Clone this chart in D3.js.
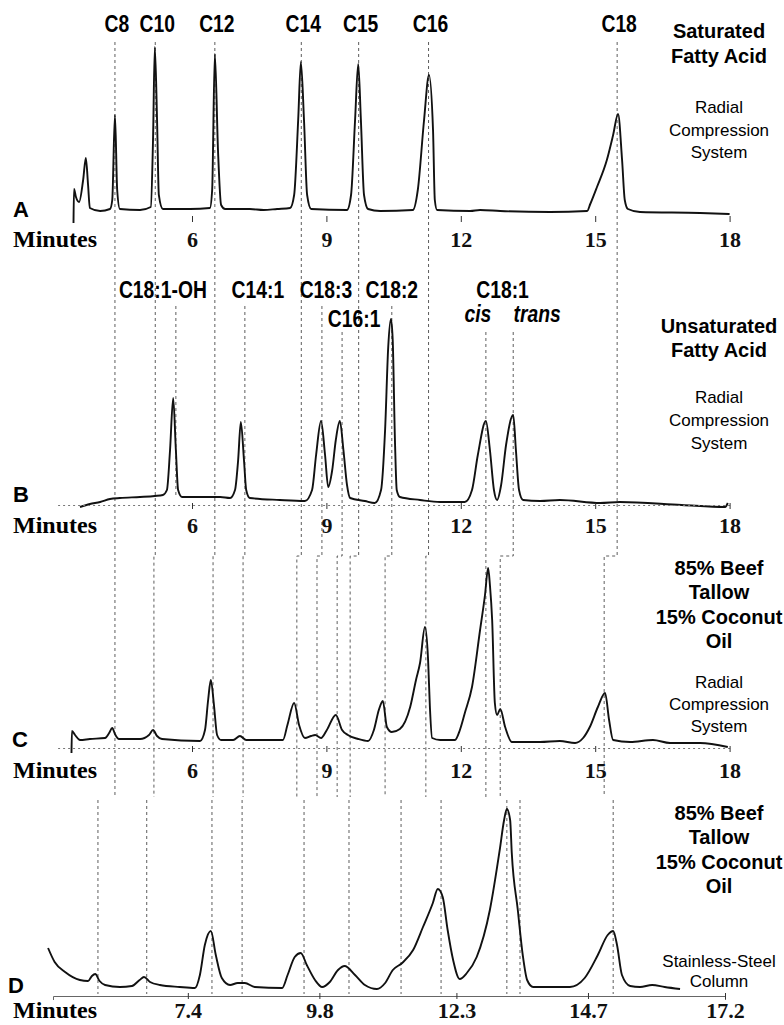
<!DOCTYPE html>
<html>
<head>
<meta charset="utf-8">
<script src="https://cdn.jsdelivr.net/npm/d3@7"></script>
<style>
body { margin: 0; background: #fff; }
.trace { fill: none; stroke: #111; stroke-width: 1.9; stroke-linejoin: round; }
.guide { fill: none; stroke: #333; stroke-width: 0.8; stroke-dasharray: 3,3; }
.peak { font-family: "Liberation Sans", Arial, sans-serif; font-weight: bold; font-size: 23px; text-anchor: middle; }
.title { font-family: "Liberation Sans", Arial, sans-serif; font-weight: bold; font-size: 20px; text-anchor: middle; }
.sub { font-family: "Liberation Sans", Arial, sans-serif; font-size: 17px; text-anchor: middle; }
.letter { font-family: "Liberation Sans", Arial, sans-serif; font-weight: bold; font-size: 22px; }
.minutes { font-family: "Liberation Serif", "Times New Roman", serif; font-weight: bold; font-size: 24px; }
</style>
</head>
<body>
<svg width="784" height="1025"></svg>
<script>
// retention times (min) and detector response (arbitrary units)
var traceA = [[3.355,-13],[3.366,21],[3.41,13],[3.48,8],[3.57,30],[3.63,52],[3.68,25],[3.72,2],[3.95,-1],[4.17,1],
  [4.22,10],[4.28,95],[4.33,20],[4.39,1],[4.84,0],[5.08,3],[5.13,70],[5.17,163],[5.22,90],[5.26,15],[5.35,1],
  [5.96,1],[6.40,2],[6.45,20],[6.51,156],[6.58,60],[6.65,5],[6.74,1],[7.29,1],[7.6,0],[7.9,1],[8.19,2],[8.28,15],
  [8.37,90],[8.43,148],[8.50,90],[8.57,15],[8.66,1],[9.46,0],[9.55,15],[9.64,90],[9.71,146],[9.77,90],[9.84,15],
  [9.93,1],[10.20,-1],[10.93,0],[11.04,20],[11.18,90],[11.29,135],[11.38,80],[11.42,10],[11.47,0],[12.21,-1],
  [12.43,0],[12.88,-1],[13.99,-2],[14.82,-1],[14.89,6],[15.04,23],[15.26,50],[15.40,75],[15.51,96],[15.60,50],
  [15.66,10],[15.73,1],[16.0,-2],[17.34,-3],[18.0,-4]];

var traceB = [[3.50,-7],[3.72,-4],[3.95,-2],[4.17,1],[4.39,2],[4.84,3],[5.17,4],[5.35,5],[5.44,10],[5.51,50],
  [5.58,102],[5.64,50],[5.69,10],[5.78,3],[6.18,3],[6.63,3],[6.85,2],[6.96,10],[7.03,40],[7.09,78],[7.16,40],
  [7.21,10],[7.29,2],[7.96,0],[8.52,-1],[8.68,10],[8.77,45],[8.88,79],[8.97,45],[9.04,13],[9.13,30],[9.21,60],
  [9.30,79],[9.38,50],[9.46,15],[9.53,2],[9.86,-1],[10.08,-3],[10.22,10],[10.31,70],[10.38,153],[10.44,181],
  [10.48,160],[10.53,60],[10.57,10],[10.64,3],[11.09,0],[11.54,-2],[12.09,-2],[12.25,10],[12.38,45],[12.56,79],
  [12.65,50],[12.74,10],[12.81,0],[12.90,15],[13.01,55],[13.17,85],[13.23,50],[13.30,10],[13.39,0],[13.77,-1],
  [14.21,0],[15.11,-3],[15.55,-2],[16.93,-5],[17.90,-7],[17.96,-3]];

var traceC = [[3.31,-13],[3.32,9],[3.39,5],[3.50,0],[3.72,1],[4.06,2],[4.15,7],[4.22,12],[4.28,6],[4.37,1],
  [4.84,1],[5.04,5],[5.13,10],[5.22,4],[5.33,1],[6.18,-1],[6.29,10],[6.36,40],[6.42,60],[6.49,35],[6.56,5],
  [6.65,0],[6.92,0],[7.07,4],[7.21,0],[8.03,0],[8.13,15],[8.28,37],[8.39,15],[8.52,2],[8.66,4],[8.75,5],[8.88,2],
  [9.01,10],[9.21,25],[9.35,10],[9.48,5],[9.71,1],[9.93,-1],[10.06,10],[10.17,30],[10.26,39],[10.35,13],
  [10.46,8],[10.64,11],[10.87,33],[11.00,60],[11.09,77],[11.20,113],[11.27,80],[11.31,33],[11.36,2],[11.54,0],
  [11.87,0],[11.98,10],[12.09,27],[12.25,53],[12.43,110],[12.54,145],[12.61,172],[12.65,155],[12.70,120],
  [12.76,37],[12.81,25],[12.88,31],[12.99,13],[13.14,-2],[13.77,-2],[14.21,-1],[14.55,-3],[14.73,2],[14.88,13],
  [15.06,33],[15.22,47],[15.31,20],[15.40,0],[15.78,-2],[16.29,0],[16.67,-3],[17.34,-3],[17.96,-7]];

var traceD = [[4.85,40],[4.97,26],[5.16,16],[5.43,8],[5.58,7],[5.65,12],[5.71,14],[5.79,7],[5.89,3],[6.16,1],
  [6.38,2],[6.52,8],[6.60,11],[6.71,6],[6.89,3],[7.25,1],[7.53,0],[7.62,13],[7.71,43],[7.82,57],[7.91,33],
  [8.02,10],[8.17,3],[8.31,5],[8.44,5],[8.62,1],[9.12,0],[9.22,13],[9.35,31],[9.46,35],[9.57,23],[9.72,8],
  [9.85,1],[9.99,6],[10.14,18],[10.26,22],[10.45,13],[10.63,3],[10.85,-1],[11.00,5],[11.14,18],[11.31,25],
  [11.51,38],[11.69,61],[11.87,85],[11.96,99],[12.05,91],[12.14,58],[12.24,28],[12.36,9],[12.49,15],[12.67,31],
  [12.91,78],[13.09,138],[13.17,168],[13.22,179],[13.28,168],[13.31,135],[13.42,78],[13.51,33],[13.59,8],
  [13.70,1],[14.37,1],[14.64,10],[14.88,33],[15.06,53],[15.16,57],[15.23,43],[15.32,13],[15.47,2],[15.65,1],
  [15.87,3],[16.10,1],[16.38,-1]];

var satNames = ["C8", "C10", "C12", "C14", "C15", "C16", "C18"];
var satTimes = [4.28, 5.18, 6.51, 8.44, 9.72, 11.28, 15.49];
var unsatNames = ["C18:1-OH", "C14:1", "C18:3", "C16:1", "C18:2", "C18:1 cis", "C18:1 trans"];
var unsatTimes = [5.64, 7.18, 8.90, 9.35, 10.46, 12.56, 13.17];

// matching peaks in the blend (panel C, same radial column)
var blendSource = ["C8", "C10", "C12", "C14:1", "C14", "C18:3", "C16:1", "C15", "C18:2", "C16", "C18:1 cis", "C18:1 trans", "C18"];
var blendTimes = [4.28, 5.15, 6.47, 7.14, 8.34, 8.79, 9.24, 9.53, 10.31, 11.22, 12.56, 12.88, 15.20];
// matching peaks on the stainless-steel column (panel D)
var steelTimes = [5.76, 6.65, 7.84, 8.39, 9.52, 10.34, 11.29, 12.02, 13.22, 13.46, 15.16];

var radialTicks = [6, 9, 12, 15, 18];
var steelTicks = [7.4, 9.8, 12.3, 14.7, 17.2];

var svg = d3.select("svg");

var xR = d3.scaleLinear().domain([3, 18]).range([57.6, 729.6]);
var xS = d3.scaleLinear().domain([4.94, 17.2]).range([53, 725]);

function yFor(base) {
    return d3.scaleLinear().domain([0, 200]).range([base, base - 200]);
}
var yA = yFor(210), yB = yFor(500), yC = yFor(740), yD = yFor(988);

var timeOf = {};
satNames.forEach(function(n, i) { timeOf[n] = satTimes[i]; });
unsatNames.forEach(function(n, i) { timeOf[n] = unsatTimes[i]; });

// ---- dashed guide lines ----
var guides = svg.append("g");
var jogY = 556, cBottom = 797;

function guideTop(name) {
    if (satNames.indexOf(name) >= 0) return 42;
    if (name == "C16:1" || name == "C18:1 cis" || name == "C18:1 trans") return 332;
    return 306;
}

blendSource.forEach(function(name, i) {
    var x0 = xR(timeOf[name]), x1 = xR(blendTimes[i]);
    guides.append("path")
        .attr("class", "guide")
        .attr("d", "M" + x0 + "," + guideTop(name) + "V" + jogY + "H" + x1 + "V" + cBottom);
});
// C18:1-OH only runs down to its own peak
guides.append("line")
    .attr("class", "guide")
    .attr("x1", xR(timeOf["C18:1-OH"])).attr("x2", xR(timeOf["C18:1-OH"]))
    .attr("y1", guideTop("C18:1-OH")).attr("y2", 498);

guides.selectAll("line.steel")
    .data(steelTimes)
    .enter().append("line")
    .attr("class", "guide")
    .attr("x1", function(d) { return xS(d); })
    .attr("x2", function(d) { return xS(d); })
    .attr("y1", 800)
    .attr("y2", 994);

// ---- traces ----
function drawTrace(data, x, y) {
    var line = d3.line()
        .x(function(d) { return x(d[0]); })
        .y(function(d) { return y(d[1]); })
        .curve(d3.curveMonotoneX);
    svg.append("path").datum(data).attr("class", "trace").attr("d", line);
}
drawTrace(traceA, xR, yA);
drawTrace(traceB, xR, yB);
drawTrace(traceC, xR, yC);
drawTrace(traceD, xS, yD);

// ---- axes ----
function drawAxis(x, ticks, fmt, axisY, textBase, style) {
    var axis = d3.axisBottom(x).tickValues(ticks).tickFormat(fmt)
        .tickSizeInner(style.tick).tickSizeOuter(style.outer);
    var g = svg.append("g").attr("transform", "translate(0," + axisY + ")").call(axis);
    g.selectAll(".tick line").attr("stroke", "#333").attr("stroke-width", 1)
        .attr("y1", style.tickFrom);
    var dom = g.select(".domain");
    if (style.domain == "none") dom.remove();
    else dom.attr("stroke", style.color).attr("stroke-width", 1)
        .attr("stroke-dasharray", style.domain == "dotted" ? "2,3" : null);
    g.selectAll(".tick text")
        .attr("y", textBase - axisY).attr("dy", 0)
        .attr("font-family", "'Liberation Serif', 'Times New Roman', serif")
        .attr("font-weight", "bold").attr("font-size", 22).attr("fill", "#111");
    svg.append("text").attr("class", "minutes").attr("x", 13).attr("y", textBase).text("Minutes");
}
var fmtInt = d3.format("d"), fmt1 = d3.format(".1f");
drawAxis(xR, radialTicks, fmtInt, 216, 247, {tick: 6, outer: 0, tickFrom: 0, domain: "none", color: "#333"});
drawAxis(xR, radialTicks, fmtInt, 505, 533, {tick: 4, outer: 0, tickFrom: -2, domain: "dotted", color: "#777"});
drawAxis(xR, radialTicks, fmtInt, 748, 778, {tick: 4, outer: 0, tickFrom: -2, domain: "dotted", color: "#777"});
drawAxis(xS, steelTicks, fmt1, 996, 1018, {tick: 3, outer: 4, tickFrom: -3, domain: "solid", color: "#666"});

// ---- peak labels (condensed bold) ----
var lab = svg.append("g");
function peakText(x, y, t, italic) {
    var g = lab.append("g").attr("transform", "translate(" + x + "," + y + ") scale(0.84,1)");
    var tx = g.append("text").attr("class", "peak").text(t);
    if (italic) tx.attr("font-style", "italic");
}
satNames.forEach(function(n, i) {
    peakText(xR(satTimes[i]) + 2, 32, n);
});
var unsatDx = {"C18:1-OH": -13, "C14:1": 13, "C18:3": 4, "C16:1": 12, "C18:2": 0};
unsatNames.slice(0, 5).forEach(function(n, i) {
    peakText(xR(unsatTimes[i]) + unsatDx[n], n == "C16:1" ? 327 : 298, n);
});
var tCis = timeOf["C18:1 cis"], tTrans = timeOf["C18:1 trans"];
peakText((xR(tCis) + xR(tTrans)) / 2 + 3, 298, "C18:1");
peakText(xR(tCis) - 8, 322, "cis", true);
peakText(xR(tTrans) + 24, 322, "trans", true);

// ---- panel titles ----
function block(lines, cls, y0, step) {
    lines.forEach(function(t, i) {
        svg.append("text").attr("class", cls).attr("x", 719).attr("y", y0 + i * step).text(t);
    });
}
block(["Saturated", "Fatty Acid"], "title", 38, 25);
block(["Radial", "Compression", "System"], "sub", 113, 22.5);
block(["Unsaturated", "Fatty Acid"], "title", 333, 24);
block(["Radial", "Compression", "System"], "sub", 403, 23);
block(["85% Beef", "Tallow", "15% Coconut", "Oil"], "title", 575, 24.3);
block(["Radial", "Compression", "System"], "sub", 688, 22);
block(["85% Beef", "Tallow", "15% Coconut", "Oil"], "title", 820, 24.3);
block(["Stainless-Steel", "Column"], "sub", 967, 20);

[["A", 13, 217], ["B", 13, 502], ["C", 12, 747], ["D", 8, 993]].forEach(function(p) {
    svg.append("text").attr("class", "letter").attr("x", p[1]).attr("y", p[2]).text(p[0]);
});
</script>
</body>
</html>
